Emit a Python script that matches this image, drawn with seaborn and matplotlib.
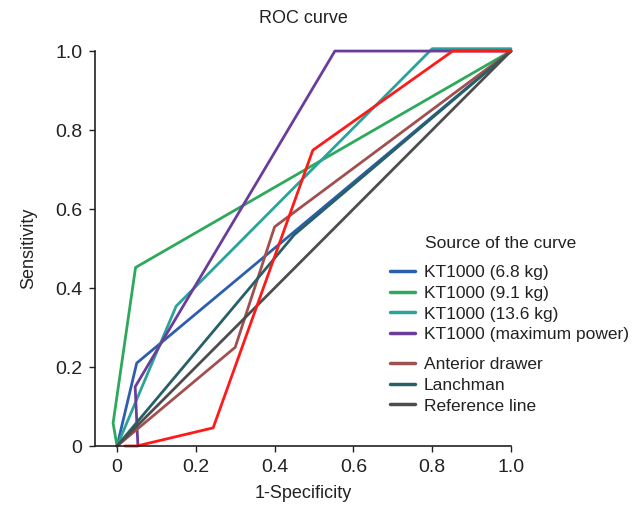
import pandas as pd
import seaborn as sns
import matplotlib.pyplot as plt
from matplotlib.lines import Line2D

# ROC curve points (1-specificity, sensitivity)
curves = ['KT1000 (6.8 kg)', 'KT1000 (9.1 kg)', 'KT1000 (13.6 kg)',
          'KT1000 (maximum power)', 'Anterior drawer', 'Lanchman', 'Reference line']
fpr_68 = [0.0, 0.05, 1.0]
tpr_68 = [0.0, 0.21, 1.0]
fpr_91 = [0.0, -0.01, 0.047, 1.0]
tpr_91 = [0.0, 0.058, 0.452, 1.0]
fpr_136 = [0.0, 0.15, 0.80, 1.0]
tpr_136 = [0.0, 0.354, 1.006, 1.006]
fpr_max = [0.053, 0.046, 0.553, 1.0]
tpr_max = [0.0, 0.15, 1.0, 1.0]
fpr_ad = [0.0, 0.30, 0.40, 1.0]
tpr_ad = [0.0, 0.25, 0.555, 1.0]
fpr_la = [0.0, 0.45, 1.0]
tpr_la = [0.0, 0.535, 1.0]
fpr_ref = [0.0, 1.0]
tpr_ref = [0.0, 1.0]
# unlabelled red curve
fpr_red = [0.02, 0.05, 0.244, 0.497, 0.852, 1.0]
tpr_red = [0.0, 0.0, 0.046, 0.749, 1.0, 1.0]

colors = ['#2b5fad', '#2ea85a', '#2aa39a', '#6b3c9c', '#a0504f', '#276066', '#4d4d4d']

sns.set_style('ticks')
plt.rcParams['font.family'] = ['Liberation Sans', 'DejaVu Sans']
TXT = '#222222'

rows = []
for name, xs, ys in zip(curves,
                        [fpr_68, fpr_91, fpr_136, fpr_max, fpr_ad, fpr_la, fpr_ref],
                        [tpr_68, tpr_91, tpr_136, tpr_max, tpr_ad, tpr_la, tpr_ref]):
    for a, b in zip(xs, ys):
        rows.append({'curve': name, 'fpr': a, 'tpr': b})
df = pd.DataFrame(rows)
df_red = pd.DataFrame({'fpr': fpr_red, 'tpr': tpr_red})

fig = plt.figure(figsize=(6.4, 5.07), dpi=100)
ax = fig.add_axes([0.1484, 0.1203, 0.65, 0.779])

sns.lineplot(data=df, x='fpr', y='tpr', hue='curve', hue_order=curves,
             palette=colors, sort=False, estimator=None, units='curve',
             lw=2, legend=False, ax=ax, clip_on=False)
sns.lineplot(data=df_red, x='fpr', y='tpr', sort=False, estimator=None,
             color='#ff1a1a', lw=2, ax=ax, clip_on=False)

ax.set_xlim(-0.056, 1.0)
ax.set_ylim(0, 1.0)
ticks = [0, 0.2, 0.4, 0.6, 0.8, 1.0]
labels = ['0', '0.2', '0.4', '0.6', '0.8', '1.0']
ax.set_xticks(ticks)
ax.set_xticklabels(labels)
ax.set_yticks(ticks)
ax.set_yticklabels(labels)
ax.tick_params(labelsize=14, length=4, width=1, color=TXT, labelcolor=TXT, pad=5)
for s in ['left', 'bottom']:
    ax.spines[s].set_color(TXT)
    ax.spines[s].set_linewidth(1.2)
sns.despine(ax=ax)

ax.set_title('ROC curve', fontsize=13, pad=20, color=TXT)
ax.set_xlabel('1-Specificity', fontsize=13, labelpad=7, color=TXT)
ax.set_ylabel('Sensitivity', fontsize=13, labelpad=13, color=TXT)

# legend: title as text, two blocks of entries with a small gap
fig.text(425 / 640, 1 - 244 / 507, 'Source of the curve', fontsize=12.5,
         color=TXT, va='center', ha='left')
handles = [Line2D([0], [0], color=c, lw=2.5) for c in colors]
kw = dict(loc='upper left', frameon=False, fontsize=12.5, handlelength=1.45,
          handletextpad=0.5, labelspacing=0.32, borderpad=0, borderaxespad=0,
          labelcolor=TXT)
fig.legend(handles[:4], curves[:4], bbox_to_anchor=(390 / 640, 1 - 265 / 507), **kw)
fig.legend(handles[4:], curves[4:], bbox_to_anchor=(390 / 640, 1 - 357 / 507), **kw)

fig.savefig('out.png', dpi=100)
